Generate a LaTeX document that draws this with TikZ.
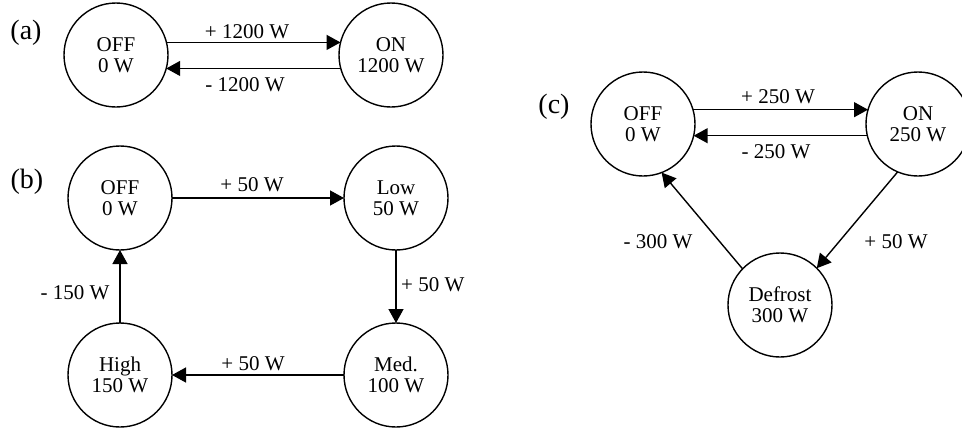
\documentclass[tikz,border=0pt]{standalone}
\usepackage{fontspec}
\setmainfont{Liberation Serif}
\usetikzlibrary{arrows.meta}
\begin{document}
\begin{tikzpicture}[x=1pt,y=-1pt,
 state/.style={circle,draw,line width=1.4pt,minimum size=104pt,inner sep=0pt,outer sep=0pt,align=center,font=\fontsize{21}{21}\selectfont},
 conn/.style={line width=1.4pt,-{Triangle[length=14pt,width=15pt]}},
 elabel/.style={font=\fontsize{21}{21}\selectfont,inner sep=0pt},
 plabel/.style={font=\fontsize{28}{28}\selectfont,inner sep=0pt}]
\useasboundingbox (0,0) rectangle (962,429);
% (a)
\node[plabel] (la) at (26,33) {(a)};
\node[state] (aOFF) at (116,55) {OFF\\0 W};
\node[state] (aON) at (391,55) {ON\\1200 W};
\draw[conn] (aOFF.14) -- (aON.166);
\draw[conn] (aON.195) -- (aOFF.-15);
\node[elabel] (a1) at (247,32) {+ 1200 W};
\node[elabel] (a2) at (245,85) {- 1200 W};
% (b)
\node[plabel] (lb) at (27,182) {(b)};
\node[state] (bOFF) at (120,198) {OFF\\0 W};
\node[state] (bLow) at (396,198) {Low\\50 W};
\node[state] (bMed) at (396,375) {Med.\\100 W};
\node[state] (bHigh) at (120,375) {High\\150 W};
\draw[conn] (bOFF) -- (bLow);
\draw[conn] (bLow) -- (bMed);
\draw[conn] (bMed) -- (bHigh);
\draw[conn] (bHigh) -- (bOFF);
\node[elabel] (b1) at (252,185) {+ 50 W};
\node[elabel,anchor=west] (b2) at (401,285) {+ 50 W};
\node[elabel] (b3) at (253,364) {+ 50 W};
\node[elabel] (b4) at (75,293) {- 150 W};
% (c)
\node[plabel] (lc) at (554,107) {(c)};
\node[state] (cOFF) at (643,124) {OFF\\0 W};
\node[state] (cON) at (918,124) {ON\\250 W};
\node[state] (cDef) at (780,305) {Defrost\\300 W};
\draw[conn] (cOFF.16) -- (cON.164);
\draw[conn] (cON.193) -- (cOFF.-13);
\draw[conn] (cON.247.6) -- (cDef.45);
\draw[conn] (cDef.136.5) -- (cOFF.291.6);
\node[elabel] (c1) at (778,97) {+ 250 W};
\node[elabel] (c2) at (776,152) {- 250 W};
\node[elabel] (c3) at (658,242) {- 300 W};
\node[elabel] (c4) at (896,242) {+ 50 W};
\end{tikzpicture}
\end{document}
